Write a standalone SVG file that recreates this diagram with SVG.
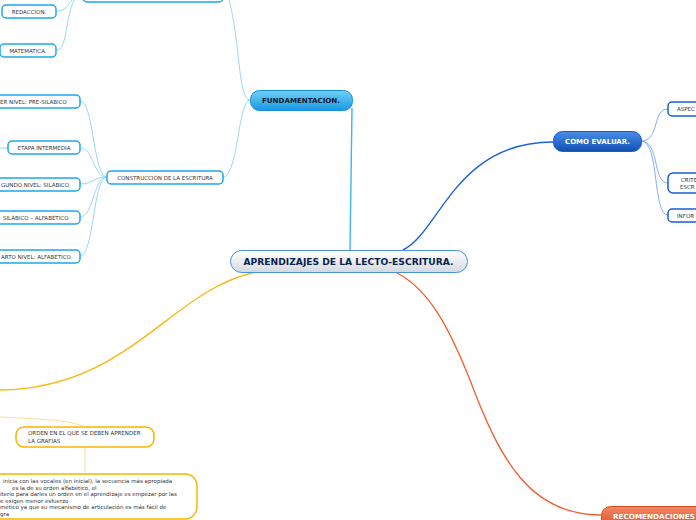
<svg xmlns="http://www.w3.org/2000/svg" width="696" height="520" viewBox="0 0 696 520">
<defs>
<linearGradient id="gCentral" x1="0" y1="0" x2="0" y2="1"><stop offset="0" stop-color="#ffffff"/><stop offset="1" stop-color="#d3d9e0"/></linearGradient>
<linearGradient id="gFund" x1="0" y1="0" x2="0" y2="1"><stop offset="0" stop-color="#6fd0fa"/><stop offset="1" stop-color="#1a98e0"/></linearGradient>
<linearGradient id="gEval" x1="0" y1="0" x2="0" y2="1"><stop offset="0" stop-color="#4a8ee8"/><stop offset="1" stop-color="#0f4fb5"/></linearGradient>
<linearGradient id="gRec" x1="0" y1="0" x2="0" y2="1"><stop offset="0" stop-color="#f48a66"/><stop offset="1" stop-color="#d9481e"/></linearGradient>
</defs>
<style>
text{font-family:"DejaVu Sans","Liberation Sans",sans-serif}
.c{fill:none}
.lb{stroke:#8fd3f4;stroke-width:0.9}
.sb{fill:#fff;stroke:#1ea6ea;stroke-width:1.5}
.se{fill:#fff;stroke:#1a5fd0;stroke-width:1.5}
.so{fill:#fff;stroke:#f7b500;stroke-width:1.5}
.t{font-size:5.5px;fill:#333;text-anchor:middle}
.tl{font-size:5.5px;fill:#333}
</style>
<g id="connectors">
<path class="c" d="M350,250 L352,108" stroke="#3ab6f0" stroke-width="1.4"/>
<path class="c lb" d="M250,100 C238,100 240,40 229,0"/>
<path class="c lb" d="M250,100 C238,100 238,177 223,177"/>
<path class="c lb" d="M57,11 C66,11 68,5 72,0"/>
<path class="c lb" d="M57,50 C67,50 65,20 74,0"/>
<path class="c lb" d="M107,177 C93,177 94,101 80,101"/>
<path class="c lb" d="M107,177 C93,177 94,148 80,148"/>
<path class="c lb" d="M107,177 C93,177 94,184 80,184"/>
<path class="c lb" d="M107,177 C93,177 94,217 80,217"/>
<path class="c lb" d="M107,177 C93,177 94,256 80,256"/>
<path class="c lb" d="M0,148 L8,148"/>
<path class="c" d="M403,250 C440,232 455,142 553,142" stroke="#1d62d6" stroke-width="1.4"/>
<path class="c" d="M641,141 C660,141 652,109 668,109" stroke="#7aa6ea" stroke-width="0.9"/>
<path class="c" d="M641,141 C660,141 652,183 668,183" stroke="#7aa6ea" stroke-width="0.9"/>
<path class="c" d="M641,141 C660,141 652,215 668,215" stroke="#7aa6ea" stroke-width="0.9"/>
<path class="c" d="M256,272 C170,290 130,388 0,390" stroke="#f8b812" stroke-width="1.4"/>
<path class="c" d="M0,417 C40,419 70,420 85,427" stroke="#fbd98a" stroke-width="0.9"/>
<path class="c" d="M85,447 L85,474" stroke="#fbd98a" stroke-width="0.9"/>
<path class="c" d="M397,273 C430,290 450,330 470,380 C500,460 530,515 601,515" stroke="#f25c2c" stroke-width="1.3"/>
</g>
<g id="central">
<rect x="230.5" y="250.5" width="237" height="22" rx="11" fill="url(#gCentral)" stroke="#4a92d6" stroke-width="1"/>
<text x="348.5" y="264.5" text-anchor="middle" font-size="8.5" font-weight="bold" fill="#0b1f4f" textLength="210" lengthAdjust="spacingAndGlyphs">APRENDIZAJES DE LA LECTO-ESCRITURA.</text>
</g>
<g id="fundamentacion">
<rect x="250.5" y="90.5" width="102" height="20" rx="9" fill="url(#gFund)" stroke="#1590d8" stroke-width="1"/>
<text x="301" y="103" text-anchor="middle" font-size="7" font-weight="bold" fill="#0a1a2a" textLength="78" lengthAdjust="spacingAndGlyphs">FUNDAMENTACION.</text>
</g>
<g id="top-node">
<rect x="83" y="-12" width="140" height="14" rx="4" class="sb"/>
</g>
<g id="redaccion">
<rect x="2" y="5" width="54" height="13" rx="4" class="sb"/>
<text x="29" y="13.8" class="t">REDACCION.</text>
</g>
<g id="matematica">
<rect x="0" y="44" width="56" height="13" rx="4" class="sb"/>
<text x="28" y="52.8" class="t">MATEMATICA.</text>
</g>
<g id="construccion">
<rect x="107" y="171" width="116" height="13" rx="4" class="sb"/>
<text x="165" y="179.8" class="t">CONSTRUCCIÓN DE LA ESCRITURA</text>
</g>
<g id="nivel1">
<rect x="-10" y="95" width="90" height="13" rx="4" class="sb"/>
<text x="0" y="103.8" class="tl">ER NIVEL: PRE-SILÁBICO</text>
</g>
<g id="etapa">
<rect x="8" y="141" width="72" height="13" rx="4" class="sb"/>
<text x="44" y="149.8" class="t">ETAPA INTERMEDIA</text>
</g>
<g id="nivel2">
<rect x="-10" y="178" width="90" height="13" rx="4" class="sb"/>
<text x="1" y="186.8" class="tl">GUNDO NIVEL: SILÁBICO</text>
</g>
<g id="nivel3">
<rect x="-10" y="211" width="90" height="13" rx="4" class="sb"/>
<text x="3" y="219.8" class="tl">SILÁBICO – ALFABÉTICO</text>
</g>
<g id="nivel4">
<rect x="-10" y="250" width="90" height="13" rx="4" class="sb"/>
<text x="1" y="258.8" class="tl">ARTO NIVEL: ALFABÉTICO</text>
</g>
<g id="como-evaluar">
<rect x="553.5" y="131.5" width="88" height="20" rx="9" fill="url(#gEval)" stroke="#1a5cc8" stroke-width="1"/>
<text x="597.5" y="144" text-anchor="middle" font-size="7" font-weight="bold" fill="#ffffff" textLength="65" lengthAdjust="spacingAndGlyphs">COMO EVALUAR.</text>
</g>
<g id="aspec">
<rect x="668" y="102" width="40" height="14" rx="4" class="se"/>
<text x="677" y="111.3" class="tl">ASPEC</text>
</g>
<g id="crite">
<rect x="668" y="173" width="40" height="20" rx="5" class="se"/>
<text x="681" y="182" class="tl">CRITE</text>
<text x="680" y="189" class="tl">ESCR</text>
</g>
<g id="infor">
<rect x="668" y="209" width="40" height="13" rx="4" class="se"/>
<text x="677" y="217.8" class="tl">INFOR</text>
</g>
<g id="orden">
<rect x="16" y="427" width="138" height="20" rx="8" class="so"/>
<text x="28" y="435" class="tl">ORDEN EN EL QUE SE DEBEN APRENDER</text>
<text x="28" y="442.5" class="tl">LA GRAFÍAS</text>
</g>
<g id="detalle">
<rect x="-20" y="474" width="217" height="45" rx="12" class="so"/>
<text x="3" y="483" class="tl">inicia con las vocales (en inicial), la secuencia más apropiada</text>
<text x="12" y="489.5" class="tl">es la de su orden alfabético, el</text>
<text x="0" y="496" class="tl">iterio para darles un orden en el aprendizaje es empezar por las</text>
<text x="0" y="502.5" class="tl">e exigen menor esfuerzo</text>
<text x="0" y="509" class="tl">mético ya que su mecanismo de articulación es más fácil de</text>
<text x="0" y="515.5" class="tl">gra</text>
</g>
<g id="recomendaciones">
<rect x="601.5" y="506.5" width="110" height="22" rx="9" fill="url(#gRec)" stroke="#d24a20" stroke-width="1"/>
<text x="613" y="519" font-size="7" font-weight="bold" fill="#ffffff" textLength="82" lengthAdjust="spacingAndGlyphs">RECOMENDACIONES</text>
</g>
</svg>
